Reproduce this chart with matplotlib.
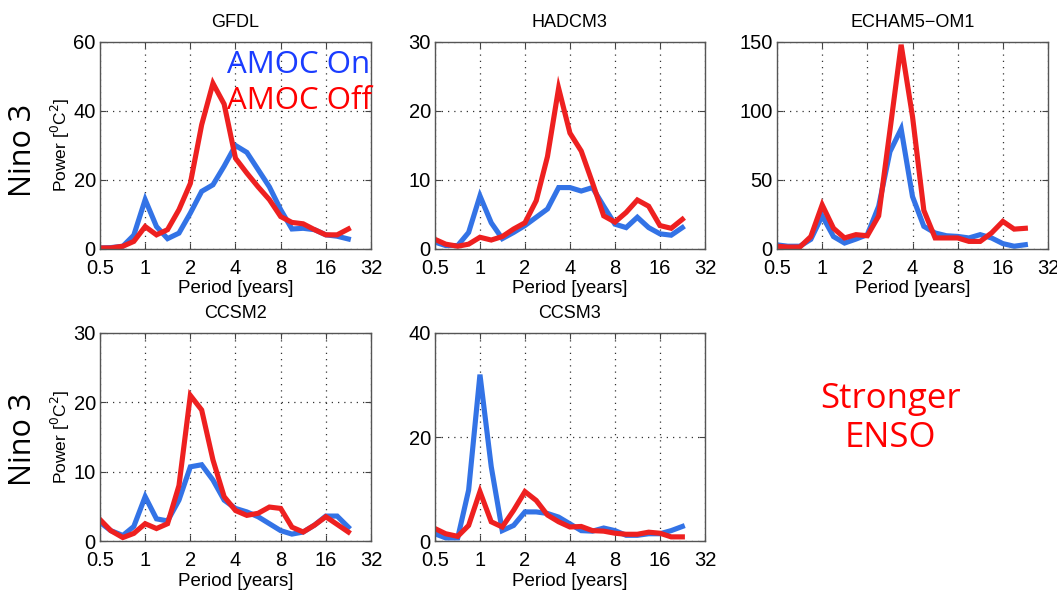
import matplotlib.pyplot as plt
from matplotlib.ticker import FixedLocator, NullLocator

# periods of the spectral estimates [years], quarter-octave steps
period = [0.5, 0.59, 0.71, 0.84, 1.0, 1.19, 1.41, 1.68, 2.0, 2.38, 2.83, 3.36,
          4.0, 4.76, 5.66, 6.73, 8.0, 9.51, 11.3, 13.45, 16.0, 19.03, 22.6]

gfdl_on = [0.3, 0.4, 0.8, 4.0, 14.3, 6.5, 3.0, 4.6, 10.4, 16.7, 18.6, 24.0,
           30.0, 28.0, 23.0, 18.0, 11.4, 5.8, 6.0, 5.6, 4.1, 3.7, 2.9]
gfdl_off = [0.3, 0.3, 0.8, 2.2, 6.5, 4.1, 5.6, 11.4, 19.0, 36.0, 48.0, 42.0,
            26.3, 22.0, 18.0, 14.3, 9.4, 7.7, 7.3, 5.6, 4.1, 4.1, 5.8]

hadcm3_on = [1.0, 0.5, 0.5, 2.4, 7.7, 3.8, 1.5, 2.4, 3.4, 4.6, 5.8, 8.9,
             8.9, 8.4, 8.9, 6.2, 3.6, 3.1, 4.6, 3.1, 2.2, 2.0, 3.1]
hadcm3_off = [1.4, 0.7, 0.4, 0.7, 1.7, 1.3, 1.8, 2.9, 3.8, 7.0, 13.4, 23.3,
              16.8, 14.2, 9.6, 4.8, 3.9, 5.3, 7.1, 6.2, 3.4, 3.0, 4.3]

echam_on = [3.0, 2.0, 2.0, 7.0, 24.0, 9.0, 4.3, 7.2, 10.4, 31.0, 70.5, 87.0,
            38.0, 16.4, 11.6, 9.6, 9.1, 8.0, 10.4, 8.0, 3.9, 2.0, 3.1]
echam_off = [2.0, 1.4, 1.4, 9.0, 32.0, 15.0, 8.0, 10.4, 9.6, 24.0, 86.0, 148.0,
             96.0, 28.0, 8.0, 8.0, 8.0, 5.5, 5.5, 11.6, 20.0, 14.4, 15.0]

ccsm2_on = [2.7, 1.5, 0.8, 2.1, 6.4, 3.2, 2.9, 5.9, 10.7, 11.0, 8.8, 5.9,
            4.7, 4.2, 3.5, 2.5, 1.5, 1.0, 1.3, 2.3, 3.6, 3.6, 2.0]
ccsm2_off = [3.1, 1.5, 0.5, 1.1, 2.5, 1.8, 2.5, 8.0, 21.0, 18.9, 11.7, 6.4,
             4.4, 3.7, 4.0, 4.9, 4.7, 2.0, 1.3, 2.3, 3.5, 2.4, 1.3]

ccsm3_on = [1.4, 0.6, 0.6, 9.8, 32.0, 14.3, 2.0, 3.0, 5.6, 5.6, 5.3, 4.6,
            3.3, 2.0, 1.9, 2.5, 2.0, 1.1, 1.1, 1.4, 1.4, 2.0, 2.8]
ccsm3_off = [2.4, 1.4, 0.9, 3.0, 9.5, 3.7, 2.7, 5.9, 9.5, 7.8, 5.0, 3.7,
             2.7, 2.8, 2.0, 1.9, 1.5, 1.3, 1.3, 1.7, 1.5, 0.8, 0.8]

xticks = [0.5, 1, 2, 4, 8, 16, 32]
xticklabels = ['0.5', '1', '2', '4', '8', '16', '32']

blue = '#3373e6'
red = '#ee2020'

fig = plt.figure(figsize=(10.57, 5.92), dpi=100)
plt.rcParams['font.family'] = ['Liberation Sans', 'DejaVu Sans']


def make_panel(rect, title, on, off, ymax, yticks):
    ax = fig.add_axes(rect)
    ax.plot(period, on, color=blue, lw=3.7, solid_joinstyle='miter')
    ax.plot(period, off, color=red, lw=3.7, solid_joinstyle='miter')
    ax.set_xscale('log', base=2)
    ax.set_xlim(0.5, 32)
    ax.set_ylim(0, ymax)
    ax.xaxis.set_major_locator(FixedLocator(xticks))
    ax.xaxis.set_minor_locator(NullLocator())
    ax.set_xticklabels(xticklabels)
    ax.set_yticks(yticks)
    ax.tick_params(direction='in', top=True, right=True, labelsize=14.5,
                   length=4, width=0.8, color='#444444')
    ax.tick_params(axis='x', pad=7)
    ax.tick_params(axis='y', pad=3)
    ax.grid(True, linestyle=(0, (1, 4)), color='#333333', lw=0.9)
    for s in ax.spines.values():
        s.set_color('#555555')
        s.set_linewidth(1.0)
    ax.set_title(title, fontsize=13, pad=11)
    ax.set_xlabel('Period [years]', fontsize=13.5, labelpad=2)
    return ax


ax1 = make_panel([0.0946, 0.5794, 0.2564, 0.3497], 'GFDL', gfdl_on, gfdl_off, 60, [0, 20, 40, 60])
ax2 = make_panel([0.4115, 0.5794, 0.2554, 0.3497], 'HADCM3', hadcm3_on, hadcm3_off, 30, [0, 10, 20, 30])
ax3 = make_panel([0.7351, 0.5794, 0.2564, 0.3497], 'ECHAM5\u2212OM1', echam_on, echam_off, 150, [0, 50, 100, 150])
ax4 = make_panel([0.0946, 0.0861, 0.2564, 0.3514], 'CCSM2', ccsm2_on, ccsm2_off, 30, [0, 10, 20, 30])
ax5 = make_panel([0.4115, 0.0861, 0.2554, 0.3514], 'CCSM3', ccsm3_on, ccsm3_off, 40, [0, 20, 40])

for ax in (ax1, ax4):
    ax.set_ylabel('Power [$^0$C$^2$]', fontsize=12.5, labelpad=1)

# annotations in the slide font
for yc in (150, 439):
    fig.text(23 / 1057, 1 - yc / 592, 'Nino 3', rotation=90, ha='center', va='center',
             fontsize=22, family='Open Sans')

fig.text(227 / 1057, 1 - 73 / 592, 'AMOC On', color='#1a3cff', fontsize=22.5,
         family='Open Sans', ha='left', va='baseline')
fig.text(227 / 1057, 1 - 109 / 592, 'AMOC Off', color='#ff0000', fontsize=22.5,
         family='Open Sans', ha='left', va='baseline')
fig.text(890 / 1057, 1 - 408 / 592, 'Stronger', color='#ff0000', fontsize=25,
         family='Open Sans', ha='center', va='baseline')
fig.text(890 / 1057, 1 - 447 / 592, 'ENSO', color='#ff0000', fontsize=25,
         family='Open Sans', ha='center', va='baseline')

fig.savefig('out.png', dpi=100)
